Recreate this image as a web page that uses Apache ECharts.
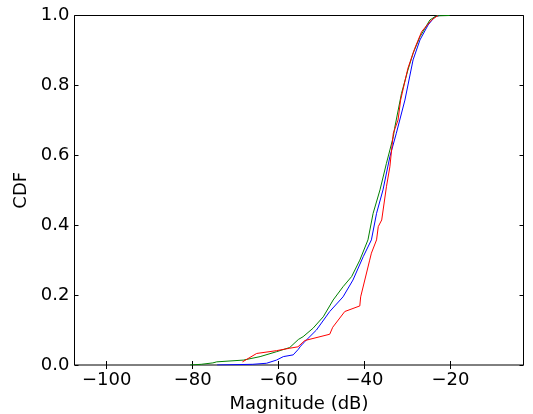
<!DOCTYPE html>
<html>
<head>
<meta charset="utf-8">
<script src="https://cdn.jsdelivr.net/npm/echarts@6/dist/echarts.min.js"></script>
<style>
  html, body { margin: 0; padding: 0; background: #fff; }
  #main { width: 533px; height: 414px; }
</style>
</head>
<body>
<div id="main"></div>
<script>
var myChart = echarts.init(document.getElementById('main'));

// tick positions
var xTicks = [-100, -80, -60, -40, -20];

// blue curve (magnitude dB, cdf)
var blueX = [-74.3, -66.0, -62.8, -60.5, -58.9, -56.6, -55.4, -55.0, -54.3, -51.2, -48.1, -45.0, -42.7, -40.3, -38.4, -37.2, -35.7, -34.1, -32.6, -31.8, -30.6, -28.7, -27.1, -25.2, -23.6, -22.5];
var blueY = [0.0, 0.002, 0.005, 0.014, 0.024, 0.029, 0.045, 0.052, 0.062, 0.100, 0.153, 0.195, 0.243, 0.310, 0.358, 0.434, 0.501, 0.596, 0.663, 0.701, 0.758, 0.873, 0.930, 0.973, 0.997, 1.0];

// green curve
var greenX = [-80.6, -78.0, -75.3, -74.4, -68.2, -64.3, -60.5, -57.4, -55.4, -54.3, -52.0, -49.6, -47.3, -45.0, -43.0, -41.1, -39.2, -38.0, -36.4, -34.9, -33.3, -33.0, -31.4, -29.9, -28.7, -27.1, -24.8, -23.3, -20.2];
var greenY = [0.0, 0.002, 0.006, 0.009, 0.014, 0.024, 0.038, 0.050, 0.073, 0.081, 0.105, 0.138, 0.186, 0.224, 0.253, 0.300, 0.358, 0.434, 0.501, 0.577, 0.653, 0.677, 0.777, 0.844, 0.892, 0.939, 0.987, 0.999, 1.0];

// red curve
var redX = [-68.4, -65.1, -60.5, -57.4, -55.5, -53.9, -48.1, -47.4, -44.6, -41.1, -40.9, -38.8, -38.4, -37.2, -36.8, -36.0, -34.9, -34.1, -33.3, -32.2, -31.6, -29.9, -28.3, -26.7, -24.4, -22.9];
var redY = [0.009, 0.033, 0.041, 0.048, 0.052, 0.070, 0.088, 0.108, 0.153, 0.169, 0.195, 0.300, 0.320, 0.358, 0.396, 0.415, 0.510, 0.567, 0.663, 0.701, 0.758, 0.849, 0.906, 0.954, 0.987, 1.0];

function pairs(xs, ys) {
  return xs.map(function (x, i) { return [x, ys[i]]; });
}

var font = 'DejaVu Sans';

var option = {
  backgroundColor: '#fff',
  animation: false,
  textStyle: { fontFamily: font },
  grid: {
    left: 74.5,
    top: 15.5,
    right: 9.5,
    bottom: 49,
    containLabel: false,
    outerBoundsMode: 'none',
    show: true,
    borderColor: '#000',
    borderWidth: 1,
    backgroundColor: 'transparent'
  },
  xAxis: [
    {
      type: 'value',
      min: -107.5,
      max: -3,
      name: 'Magnitude (dB)',
      nameLocation: 'middle',
      nameGap: 30,
      nameTextStyle: { fontSize: 18, color: '#000', fontFamily: font },
      axisLine: { show: false },
      axisTick: { show: true, inside: true, length: 4, customValues: xTicks, lineStyle: { color: '#000' } },
      axisLabel: {
        customValues: xTicks,
        fontSize: 18, color: '#000', fontFamily: font, margin: 6,
        formatter: function (v) { return String(v).replace('-', '\u2212'); }
      },
      splitLine: { show: false }
    },
    {
      type: 'value',
      position: 'top',
      min: -107.5,
      max: -3,
      axisLine: { show: false },
      axisTick: { show: true, inside: true, length: 4, customValues: xTicks, lineStyle: { color: '#000' } },
      axisLabel: { show: false },
      splitLine: { show: false }
    }
  ],
  yAxis: [
    {
      type: 'value',
      min: 0,
      max: 1,
      interval: 0.2,
      name: 'CDF',
      nameLocation: 'middle',
      nameGap: 43,
      nameTextStyle: { fontSize: 18, color: '#000', fontFamily: font },
      axisLine: { show: false },
      axisTick: { show: true, inside: true, length: 4, lineStyle: { color: '#000' } },
      axisLabel: {
        fontSize: 18, color: '#000', fontFamily: font, margin: 5,
        formatter: function (v) { return v.toFixed(1); }
      },
      splitLine: { show: false }
    },
    {
      type: 'value',
      position: 'right',
      min: 0,
      max: 1,
      interval: 0.2,
      axisLine: { show: false },
      axisTick: { show: true, inside: true, length: 4, lineStyle: { color: '#000' } },
      axisLabel: { show: false },
      splitLine: { show: false }
    }
  ],
  series: [
    {
      name: 'blue', type: 'line', showSymbol: false,
      lineStyle: { width: 1, color: '#0000ff' }, itemStyle: { color: '#0000ff' },
      data: pairs(blueX, blueY)
    },
    {
      name: 'green', type: 'line', showSymbol: false,
      lineStyle: { width: 1, color: '#008000' }, itemStyle: { color: '#008000' },
      data: pairs(greenX, greenY)
    },
    {
      name: 'red', type: 'line', showSymbol: false,
      lineStyle: { width: 1, color: '#ff0000' }, itemStyle: { color: '#ff0000' },
      data: pairs(redX, redY)
    }
  ]
};

myChart.setOption(option);
</script>
</body>
</html>
